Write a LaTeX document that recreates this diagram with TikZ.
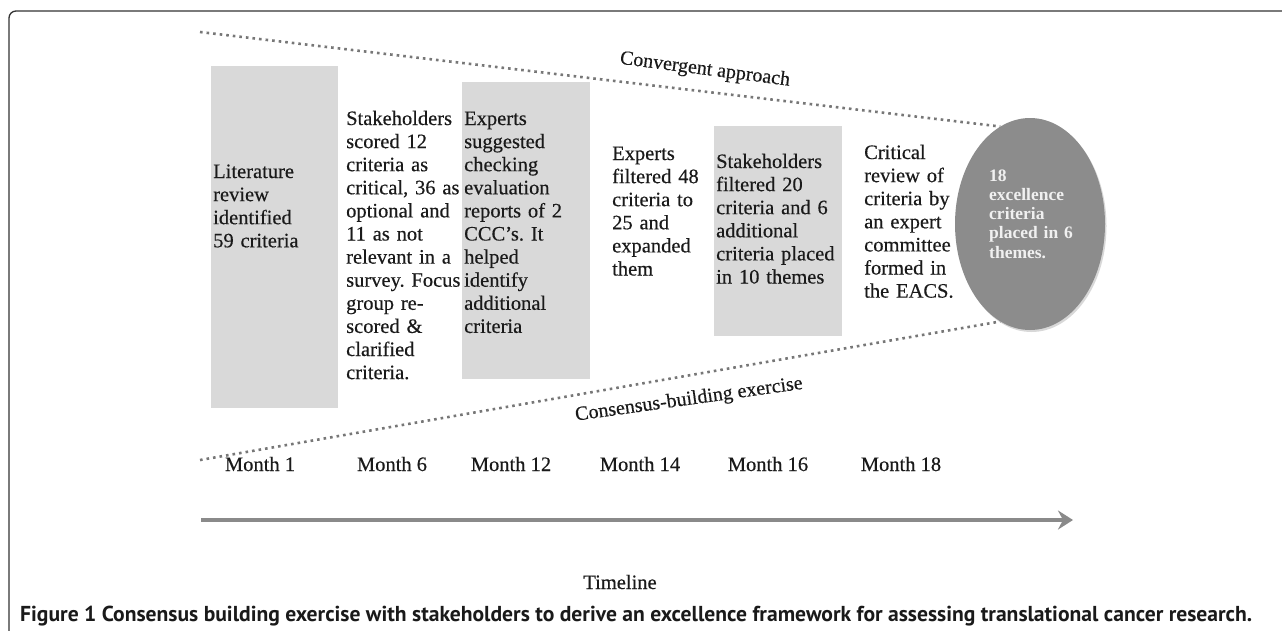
\documentclass[tikz,border=0pt]{standalone}
\usepackage{fontspec}
\setmainfont[FakeBold=0.35]{Liberation Serif}
\newfontfamily\capfont{PT Sans}
\newfontfamily\elfont{Liberation Serif}
\usetikzlibrary{shapes.geometric,arrows.meta,shadows}
\definecolor{boxgray}{HTML}{D9D9D9}
\definecolor{ellgray}{HTML}{8C8C8C}
\definecolor{dotgray}{HTML}{777777}
\definecolor{arrgray}{HTML}{8A8A8A}
\definecolor{txt}{HTML}{1A1A1A}
\definecolor{elltxt}{HTML}{F0F0F0}
\definecolor{framecol}{HTML}{333333}
\frenchspacing
\begin{document}
\begin{tikzpicture}[x=1pt,y=-1pt,
  greybox/.style={fill=boxgray, draw=none, inner sep=0pt, anchor=north west},
  coltext/.style={anchor=base west, inner sep=0pt, text width=135pt, align=left, text=txt, font=\fontsize{20.5}{23.1}\selectfont},
  month/.style={anchor=base, inner sep=0pt, text=txt, font=\fontsize{20.5}{24}\selectfont},
  dotline/.style={draw=dotgray, line width=2.6pt, dash pattern=on 2.6pt off 4pt},
  slanted/.style={inner sep=0pt, text=txt, font=\fontsize{20}{24}\selectfont},
  timearrow/.style={draw=arrgray, line width=4.5pt, -{Stealth[length=15pt, width=19pt, inset=5pt]}}
]
\useasboundingbox (0,0) rectangle (1282,630);
\fill[white] (0,0) rectangle (1282,630);
% frame
\draw[framecol, line width=1.3pt, rounded corners=7pt] (9,640) -- (9,11) -- (1295,11);
% grey boxes
\node[greybox, minimum width=127pt, minimum height=342pt] (b1) at (211,66) {};
\node[greybox, minimum width=128pt, minimum height=297pt] (b3) at (462,82) {};
\node[greybox, minimum width=128pt, minimum height=210pt] (b5) at (714,126) {};
% ellipse
\node[ellipse, fill=ellgray, minimum width=150pt, minimum height=212pt, inner sep=0pt,
      drop shadow={shadow xshift=1.5pt, shadow yshift=-2pt, opacity=.3}] (ell) at (1030,224) {};
% dotted lines
\coordinate (ts) at (200,32);
\coordinate (bs) at (200,460);
\draw[dotline] (ts) -- (ell.107);
\draw[dotline] (bs) -- (ell.253);
% column texts
\node[coltext] (t1) at (213,178) {Literature\\review\\identified\\59 criteria};
\node[coltext] (t2) at (346,125) {Stakeholders\\scored 12\\criteria as\\critical, 36 as\\optional and\\11 as not\\relevant in a\\survey. Focus\\group re-\\scored \&\\clarified\\criteria.};
\node[coltext] (t3) at (464,125) {Experts\\suggested\\checking\\evaluation\\reports of 2\\CCC’s. It\\helped\\identify\\additional\\criteria};
\node[coltext] (t4) at (612,160) {Experts\\filtered 48\\criteria to\\25 and\\expanded\\them};
\node[coltext] (t5) at (716,168) {Stakeholders\\filtered 20\\criteria and 6\\additional\\criteria placed\\in 10 themes};
\node[coltext] (t6) at (864,159) {Critical\\review of\\criteria by\\an expert\\committee\\formed in\\the EACS.};
\node[coltext, text width=90pt, text=elltxt, font=\elfont\bfseries\fontsize{17.5}{19.3}\selectfont] (t7) at (989,181) {18\\excellence\\criteria\\placed in 6\\themes.};
% slanted labels
\node[slanted, rotate=-7.4] (conv) at (705,70) {Convergent approach};
\node[slanted, rotate=8] (cons) at (689,400) {Consensus-building exercise};
% months
\node[month] (m1) at (260,471) {Month 1};
\node[month] (m6) at (392,471) {Month 6};
\node[month] (m12) at (511,471) {Month 12};
\node[month] (m14) at (640,471) {Month 14};
\node[month] (m16) at (768,471) {Month 16};
\node[month] (m18) at (901,471) {Month 18};
% timeline
\coordinate (ta) at (201,520);
\coordinate (tb) at (1073,520);
\draw[timearrow] (ta) -- (tb);
\node[month] (tl) at (620,589) {Timeline};
% caption
\node[anchor=base west, inner sep=0pt, text=txt, font=\capfont\bfseries\fontsize{21.6}{24}\selectfont] (cap) at (20,621) {Figure 1 Consensus building exercise with stakeholders to derive an excellence framework for assessing translational cancer research.};
\end{tikzpicture}
\end{document}
